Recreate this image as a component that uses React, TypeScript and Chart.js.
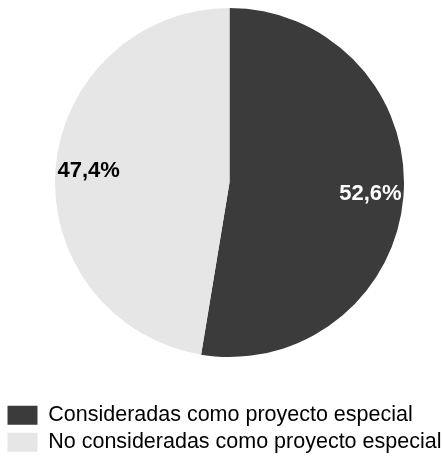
import React, { useEffect, useRef } from "react";
import { Chart, registerables } from "chart.js";

Chart.register(...registerables);

const categories = [
  "Consideradas como proyecto especial",
  "No consideradas como proyecto especial",
];
const values = [52.6, 47.4];
const sliceColors = ["#3b3b3b", "#e6e6e6"];
const labelColors = ["#ffffff", "#000000"];

const fmt = (v: number) => `${v.toFixed(1).replace(".", ",")}%`;

const sliceLabels = {
  id: "sliceLabels",
  afterDatasetsDraw(chart: any) {
    const ctx = chart.ctx;
    const meta = chart.getDatasetMeta(0);
    ctx.save();
    ctx.font = 'bold 22px "Liberation Sans", Arial, sans-serif';
    ctx.textAlign = "center";
    ctx.textBaseline = "middle";
    meta.data.forEach((arc: any, i: number) => {
      const { x, y, startAngle, endAngle, outerRadius } = arc.getProps(
        ["x", "y", "startAngle", "endAngle", "outerRadius"],
        true
      );
      const mid = (startAngle + endAngle) / 2;
      const r = outerRadius * 0.81;
      ctx.fillStyle = labelColors[i];
      ctx.fillText(fmt(values[i]), x + Math.cos(mid) * r, y + Math.sin(mid) * r);
    });
    ctx.restore();
  },
};

export default function App() {
  const ref = useRef<HTMLCanvasElement>(null);
  useEffect(() => {
    if (!ref.current) return;
    const chart = new Chart(ref.current, {
      type: "pie",
      data: {
        labels: categories,
        datasets: [
          {
            data: values,
            backgroundColor: sliceColors,
            borderWidth: 0,
          },
        ],
      },
      options: {
        responsive: false,
        animation: false,
        layout: { padding: { left: 2, right: 0, top: 8, bottom: 0 } },
        plugins: {
          tooltip: { enabled: false },
          legend: {
            position: "bottom",
            align: "start",
            title: {
              display: true,
              text: " ",
              font: { size: 10, lineHeight: 1 },
              padding: { top: 32, bottom: 0 },
            },
            labels: {
              boxWidth: 30,
              boxHeight: 19,
              padding: 5.5,
              color: "#000000",
              font: { family: '"Liberation Sans", Arial, sans-serif', size: 21.5 },
            },
          },
        },
      },
      plugins: [sliceLabels],
    });
    return () => chart.destroy();
  }, []);
  return (
    <div
      style={{
        position: "fixed",
        left: 0,
        top: 0,
        width: 443,
        height: 461,
        overflow: "hidden",
        background: "#fff",
      }}
    >
      <canvas ref={ref} width={457} height={463} style={{ display: "block" }} />
    </div>
  );
}
